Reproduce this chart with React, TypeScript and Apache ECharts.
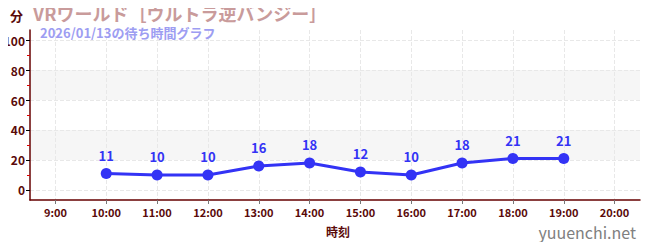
import React, { useEffect, useRef } from "react";
import * as echarts from "echarts";

const hours = [9, 10, 11, 12, 13, 14, 15, 16, 17, 18, 19, 20];
const waits: (number | null)[] = [null, 11, 10, 10, 16, 18, 12, 10, 18, 21, 21, null];
const yTicks = [0, 20, 40, 60, 80, 100];
const yMinorTicks = [10, 30, 50, 70, 90];
const titleText = "VRワールド［ウルトラ逆バンジー］";
const subText = "2026/01/13の待ち時間グラフ";

const FONT = "'Noto Sans CJK JP', 'Noto Sans', sans-serif";
const MAROON = "#5a0a0a";

export default function App() {
  const ref = useRef<HTMLDivElement>(null);
  useEffect(() => {
    if (!ref.current) return;
    const chart = echarts.init(ref.current, null, { renderer: "svg" });
    const seriesData = hours.map((h, i) => [h, waits[i]]).filter((d) => d[1] !== null);
    chart.setOption({
      animation: false,
      textStyle: { fontFamily: FONT },
      title: [
        {
          text: titleText,
          left: 33,
          top: 3,
          padding: 0,
          textStyle: { fontFamily: FONT, fontSize: 18, lineHeight: 19, fontWeight: "bold", color: "#c99b9b" },
        },
        {
          text: subText,
          left: 40,
          top: 25,
          padding: 0,
          textStyle: { fontFamily: FONT, fontSize: 13, lineHeight: 14, fontWeight: "bold", color: "#9d9df2" },
        },
        {
          text: "分",
          left: 10,
          top: 8,
          padding: 0,
          textStyle: { fontFamily: FONT, fontSize: 13, lineHeight: 14, fontWeight: "bold", color: MAROON },
        },
        {
          text: "時刻",
          left: 326,
          top: 224,
          padding: 0,
          textStyle: { fontFamily: FONT, fontSize: 12, lineHeight: 14, fontWeight: "bold", color: MAROON },
        },
        {
          text: "yuuenchi.net",
          right: 14,
          top: 223,
          padding: 0,
          textStyle: { fontFamily: FONT, fontSize: 16, lineHeight: 18, fontWeight: "normal", color: "#808080" },
        },
      ],
      grid: { left: 30, right: 10, top: 30, bottom: 50, containLabel: false },
      xAxis: {
        type: "value",
        min: 8.5,
        max: 20.5,
        axisLine: { show: true, onZero: false, lineStyle: { color: "#660000", width: 1.5 } },
        axisTick: { show: true, customValues: hours, length: 4, lineStyle: { color: "#777" } },
        axisLabel: {
          customValues: hours,
          formatter: (v: number) => `${v}:00`,
          color: MAROON,
          fontSize: 11,
          fontWeight: "bold",
          fontFamily: FONT,
          margin: 6,
        },
        splitLine: { show: true, lineStyle: { color: "#e8e8e8", type: "dashed" } },
      },
      yAxis: [
        {
          type: "value",
          min: -6.67,
          max: 106.67,
          axisLine: { show: true, lineStyle: { color: "#660000", width: 1.5 } },
          axisTick: { show: true, customValues: yTicks, length: 4, lineStyle: { color: "#000" } },
          axisLabel: { customValues: yTicks, color: MAROON, fontSize: 12, fontWeight: "bold", fontFamily: FONT, margin: 5 },
          splitLine: { show: true, lineStyle: { color: "#e8e8e8", type: "dashed" } },
          splitArea: { show: true, areaStyle: { color: ["#ffffff", "#f6f6f6"] } },
        },
        {
          type: "value",
          min: -6.67,
          max: 106.67,
          position: "left",
          axisLine: { show: false },
          axisTick: { show: true, customValues: yMinorTicks, length: 3, lineStyle: { color: "#dd0000" } },
          axisLabel: { show: false },
          splitLine: { show: false },
        },
      ],
      series: [
        {
          type: "line",
          data: seriesData,
          yAxisIndex: 0,
          symbol: "circle",
          symbolSize: 11,
          lineStyle: { color: "#3333f5", width: 3 },
          itemStyle: { color: "#3333f5" },
          label: {
            show: true,
            position: "top",
            distance: 6,
            color: "#3333f5",
            fontSize: 13,
            fontWeight: "bold",
            fontFamily: FONT,
            formatter: (p: any) => String(p.value[1]),
          },
        },
      ],
    });
    return () => chart.dispose();
  }, []);
  return <div ref={ref} style={{ width: 650, height: 250, margin: -8 }} />;
}
